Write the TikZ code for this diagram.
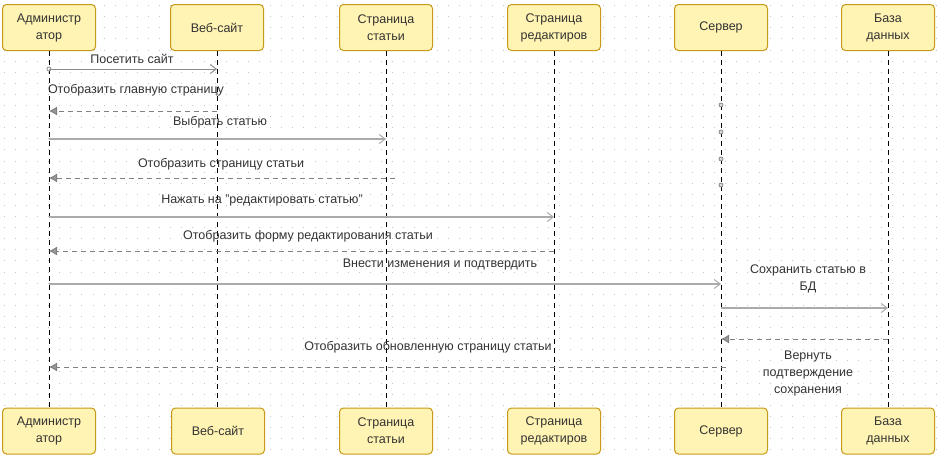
\documentclass[tikz,border=0pt]{standalone}
\usepackage{fontspec}
\setmainfont{Liberation Sans}
\usetikzlibrary{arrows.meta}
\definecolor{boxfill}{HTML}{FFF4B3}
\definecolor{boxline}{HTML}{C79A1A}
\definecolor{txt}{HTML}{333333}
\definecolor{gridc}{HTML}{C4C4C4}
\tikzset{
  actor/.style={draw=boxline,fill=boxfill,rounded corners=4pt,line width=1pt,minimum width=93pt,minimum height=46pt,inner sep=1pt,align=center,font=\fontsize{12.5}{17}\selectfont,text=txt,text width=88pt},
  lifeline/.style={draw=black,line width=0.9pt,dash pattern=on 5pt off 4pt},
  msg/.style={draw=black!33,line width=1.5pt,-{Straight Barb[length=6pt,width=9pt,line width=1pt]}},
  thinmsg/.style={draw=black!45,line width=1pt,-{Straight Barb[length=6pt,width=9pt,line width=1pt]}},
  reply/.style={draw=black!50,line width=1pt,dash pattern=on 5pt off 4pt,-{Latex[length=8pt,width=9pt,fill=black!40]}},
  lbl/.style={inner sep=0pt,align=center,font=\fontsize{12.5}{17}\selectfont,text=txt},
  mark/.style={}
}
\begin{document}
\begin{tikzpicture}[x=1pt,y=-1pt]
\useasboundingbox (0,0) rectangle (941,458);
\fill[white] (0,0) rectangle (941,458);
\foreach \i in {0,...,84}{\foreach \j in {0,...,40}{
  \fill[gridc] ({4.2+11.1*\i-0.5},{5.6+11.1*\j-0.5}) rectangle +(1,1);
}}
\node[actor] (a1) at (49,27.5) {Администр\\атор};
\node[actor] (a2) at (217,27.5) {Веб-сайт};
\node[actor] (a3) at (386,27.5) {Страница\\статьи};
\node[actor] (a4) at (554,27.5) {Страница\\редактиров};
\node[actor] (a5) at (721,27.5) {Сервер};
\node[actor] (a6) at (888,27.5) {База\\данных};
\node[actor] (b1) at (49,431) {Администр\\атор};
\node[actor] (b2) at (218,431) {Веб-сайт};
\node[actor] (b3) at (386,431) {Страница\\статьи};
\node[actor] (b4) at (554,431) {Страница\\редактиров};
\node[actor] (b5) at (721,431) {Сервер};
\node[actor] (b6) at (888,431) {База\\данных};
\foreach \k in {1,...,6}{\draw[lifeline] (a\k) -- (a\k |- b\k.north);}
\foreach \y in {105,132,159,185}{\draw[black!45,line width=0.8pt,fill=black!15] (721,\y) circle (2pt);}
\draw[black!45,line width=0.8pt,fill=white] (49,69) circle (2pt);
\draw[thinmsg] (a1 |- 0,69) -- (a2 |- 0,69);
\draw[reply] (a2 |- 0,111) -- (a1 |- 0,111);
\draw[msg] (a1 |- 0,139) -- (a3 |- 0,139);
\coordinate (r4) at (395,178);
\draw[reply] (r4) -- (a1 |- r4);
\draw[msg] (a1 |- 0,217) -- (a4 |- 0,217);
\draw[reply] (a4 |- 0,251) -- (a1 |- 0,251);
\draw[msg] (a1 |- 0,284) -- (a5 |- 0,284);
\draw[msg] (a5 |- 0,308) -- (a6 |- 0,308);
\draw[reply] (a6 |- 0,339) -- (a5 |- 0,339);
\coordinate (r10) at (726,367);
\draw[reply] (r10) -- (a1 |- r10);
\node[lbl] (l1) at (132,59) {Посетить сайт};
\node[lbl] (l2) at (136,90) {Отобразить главную страницу};
\node[lbl] (l3) at (220,122) {Выбрать статью};
\node[lbl] (l4) at (221,164) {Отобразить страницу статьи};
\node[lbl] (l5) at (262,200) {Нажать на "редактировать статью"};
\node[lbl] (l6) at (308,236) {Отобразить форму редактирования статьи};
\node[lbl] (l7) at (440,264) {Внести изменения и подтвердить};
\node[lbl] (l8) at (808,279) {Сохранить статью в\\БД};
\node[lbl] (l9) at (808,373) {Вернуть\\подтверждение\\сохранения};
\node[lbl] (l10) at (428,347) {Отобразить обновленную страницу статьи};
\end{tikzpicture}
\end{document}
